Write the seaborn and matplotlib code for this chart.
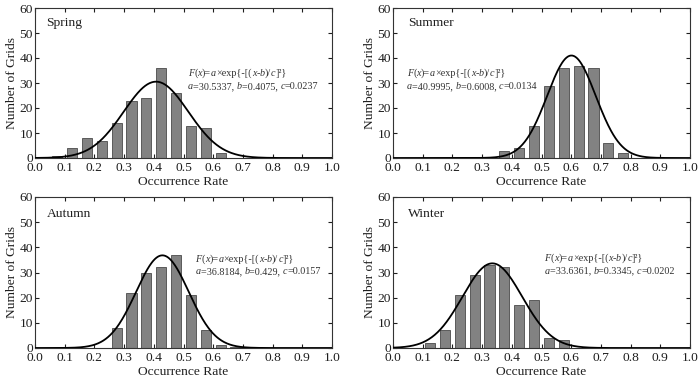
import numpy as np
import pandas as pd
import matplotlib
matplotlib.use("Agg")
import matplotlib.pyplot as plt
import seaborn as sns
from matplotlib.offsetbox import TextArea, HPacker, VPacker, AnchoredOffsetbox

# ---- data ----
seasons = ["Spring", "Summer", "Autumn", "Winter"]
spring_x = [0.075, 0.125, 0.175, 0.225, 0.275, 0.325, 0.375, 0.425, 0.475, 0.525, 0.575, 0.625]
spring_y = [1, 4, 8, 7, 14, 23, 24, 36, 26, 13, 12, 2]
summer_x = [0.375, 0.425, 0.475, 0.525, 0.575, 0.625, 0.675, 0.725, 0.775]
summer_y = [3, 4, 13, 29, 36, 37, 36, 6, 2]
autumn_x = [0.275, 0.325, 0.375, 0.425, 0.475, 0.525, 0.575, 0.625, 0.675]
autumn_y = [8, 22, 30, 32, 37, 21, 7, 1, 0.3]
winter_x = [0.125, 0.175, 0.225, 0.275, 0.325, 0.375, 0.425, 0.475, 0.525, 0.575]
winter_y = [2, 7, 21, 29, 33, 32, 17, 19, 4, 3]
fit_a = [30.5337, 40.9995, 36.8184, 33.6361]
fit_b = [0.4075, 0.6008, 0.429, 0.3345]
fit_c = [0.0237, 0.0134, 0.0157, 0.0202]
a_text = ["30.5337", "40.9995", "36.8184", "33.6361"]
b_text = ["0.4075", "0.6008", "0.429", "0.3345"]
c_text = ["0.0237", "0.0134", "0.0157", "0.0202"]
xs = [spring_x, summer_x, autumn_x, winter_x]
ys = [spring_y, summer_y, autumn_y, winter_y]
x_ticks = [round(0.1 * i, 1) for i in range(11)]
y_ticks = [0, 10, 20, 30, 40, 50, 60]

sns.set_style("ticks")
plt.rcParams["font.family"] = ["Liberation Serif", "DejaVu Serif"]
plt.rcParams["axes.linewidth"] = 0.8

fig = plt.figure(figsize=(7.0, 3.79), dpi=100)
W, H = 700, 379
boxes = [(35, 8, 332, 158), (393, 8, 690, 158), (35, 197, 332, 348), (393, 197, 690, 348)]
season_pos = [(0.037, 0.90), (0.05, 0.90), (0.04, 0.89), (0.05, 0.89)]
text_pos = [(0.515, 0.595), (0.047, 0.595), (0.54, 0.62), (0.51, 0.625)]

FS = 9.7
FF = 7.3
TXT = "#1e1e1e"

def formula_box(at, bt, ct):
    ital = dict(style="italic", fontsize=FF, color="#333333")
    norm = dict(fontsize=FF, color="#333333")
    def p(s, it):
        return TextArea(s, textprops=ital if it else norm)
    line1 = HPacker(children=[p("F", 1), p("(", 0), p("x", 1), p(")=", 0), p("a", 1),
                              p("×exp{-[(", 0), p("x", 1), p("-", 0), p("b", 1), p(")/", 0),
                              p("c", 1), p("]²}", 0)], sep=0, pad=0, align="baseline")
    line2 = HPacker(children=[p("a", 1), p("=" + at + ", ", 0), p("b", 1), p("=" + bt + ", ", 0),
                              p("c", 1), p("=" + ct, 0)], sep=0, pad=0, align="baseline")
    return VPacker(children=[line1, line2], sep=2.5, pad=0, align="left")

for i in range(4):
    l, t, r, b = boxes[i]
    ax = fig.add_axes([l / W, 1 - b / H, (r - l) / W, (b - t) / H])
    df = pd.DataFrame({"rate": xs[i], "count": ys[i]})
    sns.barplot(data=df, x="rate", y="count", native_scale=True, width=0.68,
                color="#828282", saturation=1, edgecolor="#4a4a4a", linewidth=0.6,
                errorbar=None, ax=ax, zorder=2)
    xc = np.linspace(0, 1, 400)
    yc = fit_a[i] * np.exp(-(xc - fit_b[i]) ** 2 / fit_c[i])
    sns.lineplot(x=xc, y=yc, color="black", linewidth=1.3, ax=ax, zorder=3)
    ax.set_xlim(0, 1)
    ax.set_ylim(0, 60)
    ax.set_xticks(x_ticks)
    ax.set_xticklabels([f"{v:.1f}" for v in x_ticks])
    ax.set_yticks(y_ticks)
    ax.tick_params(direction="in", top=True, right=True, length=3, width=0.8,
                   labelsize=FS, pad=1.5, colors=TXT)
    ax.tick_params(axis="x", pad=3)
    for s in ax.spines.values():
        s.set_color("#333333")
        s.set_visible(True)
    ax.set_xlabel("Occurrence Rate", fontsize=FS, labelpad=1, color=TXT)
    ax.set_ylabel("Number of Grids", fontsize=FS, labelpad=1, color=TXT)
    ax.text(season_pos[i][0], season_pos[i][1], seasons[i], transform=ax.transAxes,
            fontsize=FS, va="center", ha="left", color=TXT)
    box = formula_box(a_text[i], b_text[i], c_text[i])
    anch = AnchoredOffsetbox(loc="upper left", child=box, pad=0, borderpad=0, frameon=False,
                             bbox_to_anchor=text_pos[i], bbox_transform=ax.transAxes)
    ax.add_artist(anch)

fig.savefig("out.png", dpi=100)
